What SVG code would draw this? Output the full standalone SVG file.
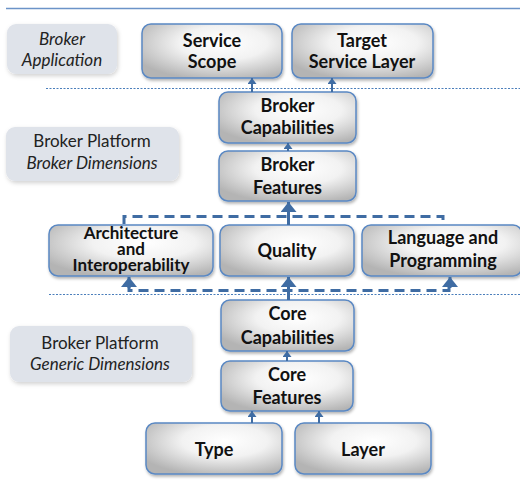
<svg xmlns="http://www.w3.org/2000/svg" width="520" height="484" viewBox="0 0 520 484">
<defs>
<radialGradient id="g" cx="0.58" cy="0.35" r="0.7">
<stop offset="0" stop-color="#ffffff"/>
<stop offset="0.45" stop-color="#f2f2f2"/>
<stop offset="1" stop-color="#b4b4b4"/>
</radialGradient>
<filter id="sh" x="-10%" y="-10%" width="125%" height="130%">
<feDropShadow dx="1" dy="2" stdDeviation="1.5" flood-color="#000" flood-opacity="0.3"/>
</filter>
<filter id="lsh" x="-10%" y="-15%" width="125%" height="140%">
<feDropShadow dx="1" dy="2" stdDeviation="2" flood-color="#000" flood-opacity="0.18"/>
</filter>
<marker id="ab" markerUnits="userSpaceOnUse" markerWidth="10" markerHeight="16" refX="10" refY="8" orient="auto" viewBox="0 0 10 16">
<path d="M0,0 L10,8 L0,16 z" fill="#3f6ca3"/>
</marker>
<marker id="as" markerUnits="userSpaceOnUse" markerWidth="6" markerHeight="9" refX="6" refY="4.5" orient="auto" viewBox="0 0 6 9">
<path d="M0,0 L6,4.5 L0,9 z" fill="#3f6ca3"/>
</marker>
</defs>
<style>
.n rect{fill:url(#g);stroke:#5a88c3;stroke-width:1.5;filter:url(#sh)}
.n text{font-family:Lato,"Open Sans","Liberation Sans",sans-serif;font-weight:bold;font-size:18px;fill:#111;text-anchor:middle}
.n text.t{font-size:17px}
.l rect{fill:#dfe3ea;filter:url(#lsh)}
.l text{font-family:Lato,"Open Sans","Liberation Sans",sans-serif;font-size:17px;fill:#222;text-anchor:middle}
.i{font-style:italic}
.sep{stroke:#4a7ebb;stroke-width:1;stroke-dasharray:2 1.5;fill:none}
.c{stroke:#3f6ca3;fill:none}
.s{stroke-width:2}
.b{stroke-width:3}
.d{stroke-width:3;stroke-dasharray:10 6}
</style>
<line x1="6" y1="8.5" x2="520" y2="8.5" stroke="#6b93c8" stroke-width="1.5"/>
<line class="sep" x1="46" y1="88.5" x2="520" y2="88.5"/>
<line class="sep" x1="49" y1="294.5" x2="520" y2="294.5"/>

<g id="lbl-app" class="l"><rect x="7" y="24" width="110" height="50" rx="9"/><text class="i" x="62" y="45">Broker</text><text class="i" x="62" y="66">Application</text></g>
<g id="lbl-broker" class="l"><rect x="6" y="127" width="173" height="54" rx="9"/><text x="92" y="147">Broker Platform</text><text class="i" x="92" y="169">Broker Dimensions</text></g>
<g id="lbl-generic" class="l"><rect x="10" y="326" width="182" height="56" rx="9"/><text x="100" y="349">Broker Platform</text><text class="i" x="100" y="370">Generic Dimensions</text></g>

<g id="service-scope" class="n"><rect x="142" y="24" width="140" height="54" rx="9"/><text x="212" y="47">Service</text><text x="212" y="68">Scope</text></g>
<g id="target-service-layer" class="n"><rect x="292" y="24" width="141" height="54" rx="9"/><text x="362" y="47">Target</text><text x="362" y="68">Service Layer</text></g>
<g id="broker-capabilities" class="n"><rect x="219" y="92" width="137" height="51" rx="9"/><text x="287.5" y="112">Broker</text><text x="287.5" y="134">Capabilities</text></g>
<g id="broker-features" class="n"><rect x="219" y="151" width="137" height="50" rx="9"/><text x="287.5" y="171">Broker</text><text x="287.5" y="194">Features</text></g>
<g id="architecture" class="n"><rect x="49" y="225" width="164" height="51" rx="9"/><text class="t" x="131" y="238.5">Architecture</text><text class="t" x="131" y="254.5">and</text><text class="t" x="131" y="270.5">Interoperability</text></g>
<g id="quality" class="n"><rect x="220" y="225" width="134" height="51" rx="9"/><text x="287" y="257">Quality</text></g>
<g id="language" class="n"><rect x="362" y="225" width="160" height="51" rx="9"/><text x="443" y="244">Language and</text><text x="443" y="267">Programming</text></g>
<g id="core-capabilities" class="n"><rect x="221" y="300" width="133" height="51" rx="9"/><text x="287.5" y="320">Core</text><text x="287.5" y="344">Capabilities</text></g>
<g id="core-features" class="n"><rect x="221" y="361" width="132" height="50" rx="9"/><text x="287" y="381">Core</text><text x="287" y="404">Features</text></g>
<g id="type" class="n"><rect x="146" y="423" width="136" height="51" rx="9"/><text x="214" y="456">Type</text></g>
<g id="layer" class="n"><rect x="295" y="423" width="136" height="51" rx="9"/><text x="363" y="456">Layer</text></g>

<g id="connectors">
<line class="c s" x1="252" y1="92" x2="252" y2="78" marker-end="url(#as)"/>
<line class="c s" x1="332" y1="92" x2="332" y2="78" marker-end="url(#as)"/>
<line class="c s" x1="288" y1="151" x2="288" y2="143" marker-end="url(#as)"/>
<path class="c d" d="M124,224 V216.5 H443 V224"/>
<line class="c b" x1="288.5" y1="225" x2="288.5" y2="202" marker-end="url(#ab)"/>
<path class="c d" d="M129,284 V290.5 H449 V284"/>
<line class="c b" x1="129" y1="288" x2="129" y2="277" marker-end="url(#ab)"/>
<line class="c b" x1="450" y1="288" x2="450" y2="277" marker-end="url(#ab)"/>
<line class="c b" x1="288.5" y1="300" x2="288.5" y2="277" marker-end="url(#ab)"/>
<line class="c s" x1="287" y1="361" x2="287" y2="351" marker-end="url(#as)"/>
<line class="c s" x1="252" y1="423" x2="252" y2="411" marker-end="url(#as)"/>
<line class="c s" x1="319" y1="423" x2="319" y2="411" marker-end="url(#as)"/>
</g>
</svg>
